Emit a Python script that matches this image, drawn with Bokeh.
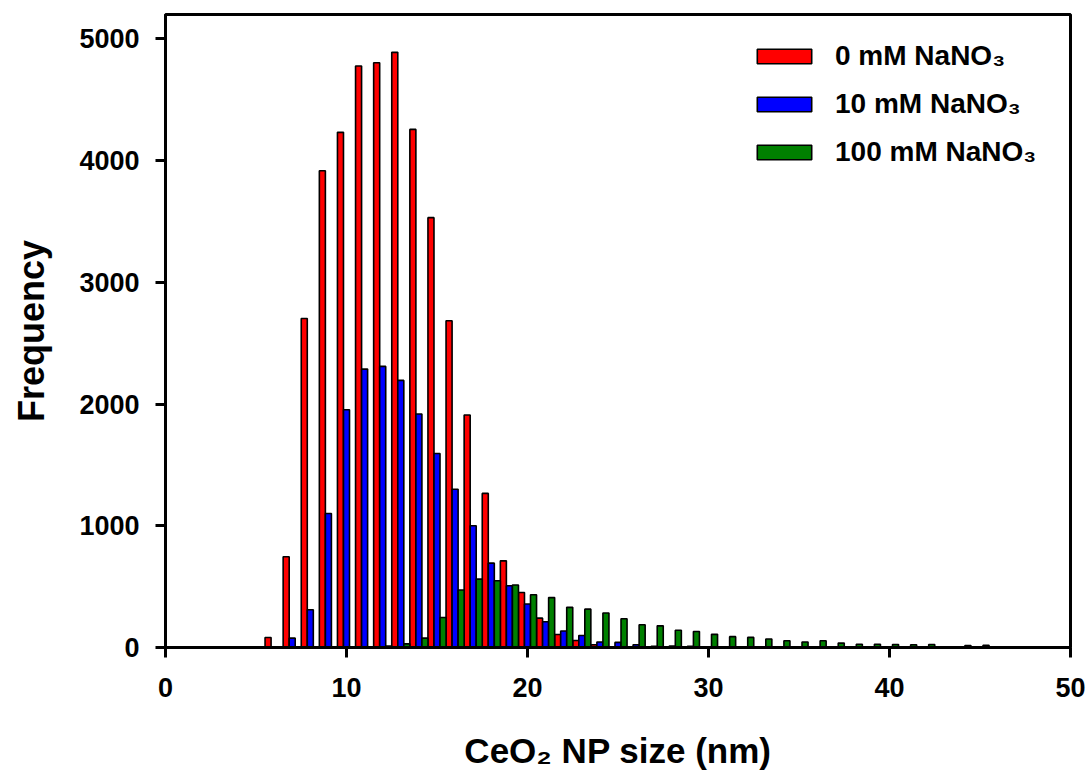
from bokeh.plotting import figure
from bokeh.models import Range1d, FixedTicker, ColumnDataSource
from bokeh.transform import dodge
from bokeh.embed import file_html
from bokeh.resources import INLINE

# NP size bins (nm)
size_nm = list(range(5, 46))

# Frequency per bin, 0 mM NaNO3
freq_0mM = [0, 82, 745, 2703, 3917, 4232, 4777, 4804, 4889, 4256,
            3531, 2684, 1910, 1266, 712, 452, 241, 107, 57, 23,
            6, 0, 0, 0, 0, 0, 0, 0, 0, 0,
            0, 0, 0, 0, 0, 0, 0, 0, 0, 0, 0]
# Frequency per bin, 10 mM NaNO3
freq_10mM = [0, 0, 77, 310, 1101, 1953, 2287, 2309, 2194, 1918,
             1594, 1300, 1000, 693, 507, 357, 211, 136, 99, 45,
             42, 23, 10, 12, 10, 0, 0, 0, 0, 0,
             0, 0, 0, 0, 0, 0, 0, 0, 0, 0, 0]
# Frequency per bin, 100 mM NaNO3
freq_100mM = [0, 0, 0, 0, 0, 0, 0, 12, 30, 77,
              247, 472, 562, 548, 513, 433, 410, 330, 315, 283,
              236, 187, 178, 142, 131, 108, 89, 83, 70, 56,
              45, 56, 36, 27, 27, 25, 22, 25, 0, 17, 19]

series_labels = ["0 mM NaNO\u2083", "10 mM NaNO\u2083", "100 mM NaNO\u2083"]
series_colors = ["#FF0000", "#0000FF", "#008000"]
x_ticks = [0, 10, 20, 30, 40, 50]
y_ticks = [0, 1000, 2000, 3000, 4000, 5000]

FONT = "Liberation Sans"

p = figure(width=1091, height=775, output_backend="svg", toolbar_location=None,
           x_range=Range1d(0, 50), y_range=Range1d(0, 5200),
           min_border_left=165, min_border_right=21, min_border_top=14,
           min_border_bottom=128)
p.background_fill_color = "white"
p.border_fill_color = "white"
p.grid.visible = False
p.outline_line_color = "black"
p.outline_line_width = 3

offsets = [-1 / 3, 0.0, 1 / 3]
for vals, lab, col, off in zip([freq_0mM, freq_10mM, freq_100mM], series_labels,
                               series_colors, offsets):
    xs = [b for b, v in zip(size_nm, vals) if v > 0]
    ys = [v for v in vals if v > 0]
    src = ColumnDataSource(dict(x=xs, top=ys))
    p.vbar(x=dodge("x", off, range=p.x_range), top="top", width=1 / 3, bottom=0,
           source=src, fill_color=col, line_color="black", line_width=1.6,
           legend_label=lab)

for ax in (p.xaxis[0], p.yaxis[0]):
    ax.axis_line_color = "black"
    ax.axis_line_width = 3
    ax.major_tick_line_color = "black"
    ax.major_tick_line_width = 3
    ax.major_tick_out = 10
    ax.major_tick_in = 0
    ax.minor_tick_line_color = None
    ax.major_label_text_font = FONT
    ax.major_label_text_font_style = "bold"
    ax.major_label_text_font_size = "27px"
    ax.major_label_text_color = "black"
    ax.axis_label_text_font = FONT
    ax.axis_label_text_font_style = "bold"
    ax.axis_label_text_color = "black"

p.xaxis.axis_label_text_font_size = "35px"
p.yaxis.axis_label_text_font_size = "36px"
p.xaxis.ticker = FixedTicker(ticks=x_ticks)
p.yaxis.ticker = FixedTicker(ticks=y_ticks)
p.xaxis.axis_label = "CeO\u2082 NP size (nm)"
p.yaxis.axis_label = "Frequency"
p.xaxis.major_label_standoff = 20
p.yaxis.major_label_standoff = 16
p.xaxis.axis_label_standoff = 31
p.yaxis.axis_label_standoff = 24

lg = p.legend[0]
lg.location = (585, 479)
lg.border_line_color = None
lg.background_fill_alpha = 0
lg.padding = 0
lg.margin = 0
lg.spacing = 16
lg.glyph_width = 68
lg.glyph_height = 18
lg.label_standoff = 17
lg.label_text_font = FONT
lg.label_text_font_style = "bold"
lg.label_text_font_size = "28px"
lg.label_text_color = "black"

open("out.html", "w").write(file_html(p, INLINE))
